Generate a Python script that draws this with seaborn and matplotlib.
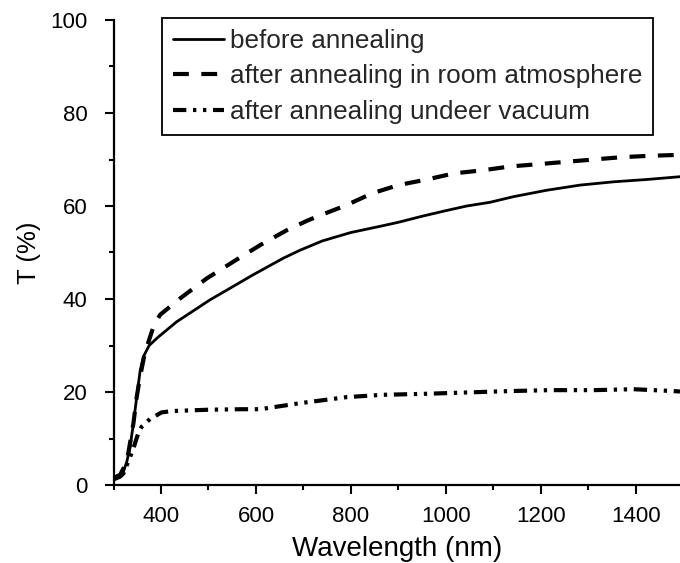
import matplotlib
matplotlib.use("Agg")
import matplotlib.pyplot as plt
import seaborn as sns
import pandas as pd
from matplotlib.ticker import MultipleLocator

# ---- data ----
before_x = [300, 307, 314, 321, 328, 335, 342, 349, 356, 363, 375, 394, 433, 503, 594, 658,
            693, 740, 800, 860, 900, 950, 1000, 1044, 1093, 1142, 1213, 1283, 1353, 1423, 1493]
before_y = [1.5, 1.8, 2.2, 2.9, 5.0, 8.2, 13.3, 19.0, 24.5, 27.6, 30.0, 31.8, 35.1, 39.8, 45.2, 48.8,
            50.5, 52.5, 54.3, 55.6, 56.5, 57.8, 59.0, 60.0, 60.8, 62.0, 63.4, 64.5, 65.2, 65.7, 66.3]

room_x = [300, 314, 328, 342, 349, 356, 366, 384, 398, 440, 496, 552, 609, 665, 707, 728,
          791, 844, 900, 960, 1016, 1079, 1135, 1195, 1253, 1311, 1370, 1430, 1493]
room_y = [1.5, 2.2, 5.0, 13.3, 19.0, 23.3, 28.4, 34.0, 36.6, 40.1, 44.4, 48.0, 51.6, 54.8, 56.8, 57.7,
          60.2, 62.7, 64.5, 65.7, 67.0, 67.7, 68.5, 69.0, 69.5, 70.0, 70.5, 70.8, 71.0]

vac_x = [300, 314, 321, 331, 342, 352, 359, 377, 401, 422, 503, 573, 609, 693, 791, 868,
         953, 1044, 1135, 1220, 1311, 1395, 1479, 1493]
vac_y = [1.2, 1.8, 2.5, 5.0, 7.9, 11.1, 12.5, 14.2, 15.6, 15.9, 16.2, 16.3, 16.3, 17.6, 18.9, 19.4,
         19.6, 19.9, 20.2, 20.4, 20.4, 20.6, 20.2, 20.1]

labels = ["before annealing",
          "after annealing in room atmosphere",
          "after annealing undeer vacuum"]
x_label = "Wavelength (nm)"
y_label = "T (%)"

# ---- style ----
sns.set_theme(style="ticks")
plt.rcParams["font.family"] = ["Liberation Sans", "DejaVu Sans"]

fig = plt.figure(figsize=(6.8, 5.63), dpi=100)
ax = fig.add_axes([113.5 / 680, 78 / 563, (680 - 113.5) / 680, (485 - 20) / 563])

series = [
    (before_x, before_y, labels[0], dict(linewidth=2.0)),
    (room_x, room_y, labels[1], dict(linewidth=3.0, dashes=(3.8, 3.0))),
    (vac_x, vac_y, labels[2], dict(linewidth=3.0, dashes=(3.2, 1.6, 0.8, 1.6, 0.8, 1.6))),
]
for xs, ys, lab, kw in series:
    df = pd.DataFrame({"wl": xs, "T": ys})
    sns.lineplot(data=df, x="wl", y="T", ax=ax, color="black", label=lab, **kw)

ax.set_xlim(300, 1493)
ax.set_ylim(0, 100)
ax.xaxis.set_major_locator(MultipleLocator(200))
ax.xaxis.set_minor_locator(MultipleLocator(100))
ax.yaxis.set_major_locator(MultipleLocator(20))
ax.yaxis.set_minor_locator(MultipleLocator(10))
ax.set_xticks([400, 600, 800, 1000, 1200, 1400])

for s in ["top", "right"]:
    ax.spines[s].set_visible(False)
for s in ["left", "bottom"]:
    ax.spines[s].set_linewidth(1.6)
    ax.spines[s].set_color("black")

ax.tick_params(axis="both", which="major", direction="out", length=6.2, width=1.5,
               labelsize=16, colors="black")
ax.tick_params(axis="x", which="major", pad=9)
ax.tick_params(axis="y", which="major", pad=12.5)
ax.tick_params(axis="both", which="minor", direction="out", length=3.8, width=1.5, colors="black")

ax.set_xlabel(x_label, fontsize=20, labelpad=6.5, color="black")
ax.set_ylabel(y_label, fontsize=18.5, labelpad=7, color="black")

leg = ax.legend(loc="upper left", bbox_to_anchor=(162 / 680, 1 - 18 / 563),
                bbox_transform=fig.transFigure, borderaxespad=0, frameon=True,
                fancybox=False, edgecolor="black", fontsize=18.8,
                handlelength=1.95, handletextpad=0.23, borderpad=0.42,
                labelspacing=0.44)
leg.get_frame().set_linewidth(1.3)
leg.get_frame().set_facecolor("white")
leg.get_frame().set_alpha(1)

fig.savefig("out.png", dpi=100)
